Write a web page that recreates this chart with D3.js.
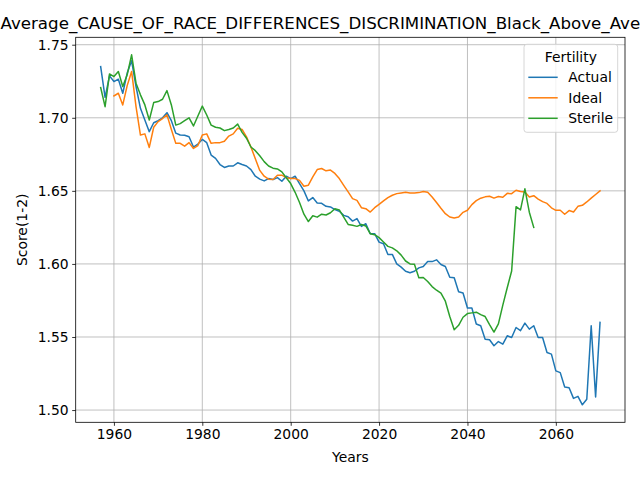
<!DOCTYPE html>
<html>
<head>
<meta charset="utf-8">
<script src="https://cdn.jsdelivr.net/npm/d3@7"></script>
<style>
  html, body { margin: 0; padding: 0; background: #fff; }
  svg { display: block; font-family: "DejaVu Sans", sans-serif; }
</style>
</head>
<body>
<svg id="chart" width="640" height="480"></svg>
<script>
// ---------------- data ----------------
const chartTitle = "Average_CAUSE_OF_RACE_DIFFERENCES_DISCRIMINATION_Black_Above_Average";
const xLabel = "Years";
const yLabel = "Score(1-2)";
const legendTitle = "Fertility";
const seriesNames = ["Actual", "Ideal", "Sterile"];
const seriesColors = ["#1f77b4", "#ff7f0e", "#2ca02c"];

const actualStart = 1957;
const actualValues = [
  1.735, 1.714, 1.7287, 1.7248, 1.7264, 1.7168, 1.7306, 1.739, 1.7214, 1.7065,
  1.6985, 1.6905, 1.6966, 1.698, 1.700, 1.7035, 1.698, 1.6895, 1.6882, 1.688,
  1.687, 1.680, 1.682, 1.6852, 1.683, 1.6745, 1.6722, 1.668, 1.666, 1.667,
  1.667, 1.6692, 1.668, 1.667, 1.6645, 1.660, 1.658, 1.6568, 1.6584, 1.6577,
  1.6591, 1.6566, 1.660, 1.6584, 1.660, 1.655, 1.650, 1.6431, 1.6454, 1.6417,
  1.6415, 1.6394, 1.639, 1.6372, 1.636, 1.6332, 1.6323, 1.6293, 1.631, 1.6257,
  1.6275, 1.6207, 1.6207, 1.6149, 1.6138, 1.6065, 1.6065, 1.600, 1.5978, 1.595,
  1.594, 1.595, 1.5973, 1.5982, 1.6016, 1.6016, 1.6028, 1.5996, 1.5982, 1.5909,
  1.5905, 1.5810, 1.5801, 1.5698, 1.5698, 1.5589, 1.5577, 1.5485, 1.5481, 1.5440,
  1.5469, 1.5451, 1.5508, 1.5497, 1.5565, 1.5543, 1.5595, 1.5554, 1.5577, 1.5497,
  1.5497, 1.5394, 1.5383, 1.5268, 1.5256, 1.5158, 1.5153, 1.5080, 1.5094, 1.5036,
  1.5074, 1.5577, 1.5089, 1.5600
];

const idealStart = 1960;
const idealValues = [
  1.715, 1.7168, 1.7088, 1.722, 1.7317, 1.7076, 1.6882, 1.689, 1.6797, 1.6935,
  1.6974, 1.6995, 1.702, 1.692, 1.6825, 1.6825, 1.6806, 1.683, 1.679, 1.681,
  1.6882, 1.689, 1.6825, 1.683, 1.683, 1.684, 1.6875, 1.689, 1.6928, 1.692,
  1.687, 1.680, 1.672, 1.664, 1.660, 1.658, 1.6578, 1.6607, 1.6607, 1.659,
  1.6584, 1.6584, 1.6572, 1.6532, 1.6539, 1.6595, 1.6646, 1.6653, 1.6637, 1.6642,
  1.6619, 1.6584, 1.6538, 1.6493, 1.6447, 1.6435, 1.6385, 1.6378, 1.6355, 1.6385,
  1.6408, 1.6431, 1.6454, 1.647, 1.6481, 1.6486, 1.649, 1.6486, 1.6486, 1.6488,
  1.6495, 1.649, 1.6458, 1.642, 1.6381, 1.6344, 1.6321, 1.6314, 1.6321, 1.6353,
  1.6367, 1.6406, 1.6433, 1.645, 1.6459, 1.6463, 1.645, 1.6461, 1.6456, 1.6483,
  1.6481, 1.6504, 1.6495, 1.6492, 1.6458, 1.6467, 1.6444, 1.6426, 1.6414, 1.6384,
  1.6367, 1.6367, 1.634, 1.6365, 1.6355, 1.6394, 1.6401, 1.6424, 1.645, 1.6475,
  1.650
];

const sterileStart = 1957;
const sterileValues = [
  1.7207, 1.7076, 1.730, 1.7282, 1.7317, 1.7214, 1.7294, 1.7431, 1.7237, 1.7157,
  1.7088, 1.6985, 1.7104, 1.7111, 1.7127, 1.7186, 1.7088, 1.695, 1.696, 1.698,
  1.700, 1.6944, 1.7012, 1.708, 1.7019, 1.695, 1.6935, 1.693, 1.6912, 1.692,
  1.693, 1.6957, 1.690, 1.686, 1.680, 1.6775, 1.674, 1.670, 1.667, 1.6655,
  1.665, 1.663, 1.659, 1.655, 1.649, 1.642, 1.634, 1.629, 1.633, 1.632,
  1.634, 1.6335, 1.635, 1.6378, 1.637, 1.632, 1.627, 1.6264, 1.6257, 1.627,
  1.626, 1.6207, 1.620, 1.618, 1.615, 1.612, 1.611, 1.609, 1.606, 1.602,
  1.600, 1.5998, 1.5905, 1.5907, 1.588, 1.5845, 1.582, 1.580, 1.5745, 1.564,
  1.555, 1.558, 1.5635, 1.566, 1.5665, 1.567, 1.5653, 1.564, 1.5585, 1.5534,
  1.559, 1.5718, 1.5837, 1.5952, 1.6392, 1.637, 1.6514, 1.6354, 1.625
];

const xTicks = [1960, 1980, 2000, 2020, 2040, 2060];
const yTicks = [1.50, 1.55, 1.60, 1.65, 1.70, 1.75];

// ---------------- build ----------------
const series = [
  { name: seriesNames[0], color: seriesColors[0], pts: actualValues.map((v, i) => [actualStart + i, v]) },
  { name: seriesNames[1], color: seriesColors[1], pts: idealValues.map((v, i) => [idealStart + i, v]) },
  { name: seriesNames[2], color: seriesColors[2], pts: sterileValues.map((v, i) => [sterileStart + i, v]) }
];

const W = 640, H = 480;
const FS = "13.89px", FS_TITLE = "16.67px";
const plot = { left: 75.7, right: 625, top: 37.3, bottom: 422.3 };

const allPts = series.flatMap(s => s.pts);
const [xmin, xmax] = d3.extent(allPts, d => d[0]);
const [ymin, ymax] = d3.extent(allPts, d => d[1]);
const xm = (xmax - xmin) * 0.05, ym = (ymax - ymin) * 0.05;

const x = d3.scaleLinear().domain([xmin - xm, xmax + xm]).range([plot.left, plot.right]);
const y = d3.scaleLinear().domain([ymin - ym, ymax + ym]).range([plot.bottom, plot.top]);

const svg = d3.select("#chart");
svg.append("rect").attr("width", W).attr("height", H).attr("fill", "#fff");

// grid
const grid = svg.append("g");
grid.selectAll("line.gx").data(xTicks).enter().append("line")
  .attr("x1", d => x(d)).attr("x2", d => x(d))
  .attr("y1", plot.top).attr("y2", plot.bottom)
  .attr("stroke", "#b0b0b0").attr("stroke-width", 0.8);
grid.selectAll("line.gy").data(yTicks).enter().append("line")
  .attr("y1", d => y(d)).attr("y2", d => y(d))
  .attr("x1", plot.left).attr("x2", plot.right)
  .attr("stroke", "#b0b0b0").attr("stroke-width", 0.8);

// lines
svg.append("clipPath").attr("id", "clip").append("rect")
  .attr("x", plot.left).attr("y", plot.top)
  .attr("width", plot.right - plot.left).attr("height", plot.bottom - plot.top);

const line = d3.line().x(d => x(d[0])).y(d => y(d[1]));
svg.append("g").attr("clip-path", "url(#clip)")
  .selectAll("path").data(series).enter().append("path")
  .attr("d", d => line(d.pts))
  .attr("fill", "none")
  .attr("stroke", d => d.color)
  .attr("stroke-width", 1.5)
  .attr("stroke-linejoin", "round")
  .attr("stroke-linecap", "square");

// axes
const xAxis = d3.axisBottom(x).tickValues(xTicks).tickFormat(d3.format("d")).tickSize(3.5).tickPadding(3.5);
const yAxis = d3.axisLeft(y).tickValues(yTicks).tickFormat(d3.format(".2f")).tickSize(3.5).tickPadding(3.5);

const gx = svg.append("g").attr("transform", `translate(0,${plot.bottom})`).call(xAxis);
const gy = svg.append("g").attr("transform", `translate(${plot.left},0)`).call(yAxis);
[gx, gy].forEach(g => {
  g.select(".domain").remove();
  g.selectAll(".tick line").attr("stroke", "#000").attr("stroke-width", 0.8);
  g.selectAll(".tick text").attr("fill", "#000")
    .style("font-family", "'DejaVu Sans', sans-serif").style("font-size", FS);
});

// spines
svg.append("rect")
  .attr("x", plot.left).attr("y", plot.top)
  .attr("width", plot.right - plot.left).attr("height", plot.bottom - plot.top)
  .attr("fill", "none").attr("stroke", "#000").attr("stroke-width", 0.8);

// labels (title runs past the figure edge, as in the reference)
svg.append("text")
  .attr("x", 0.5).attr("y", 29)
  .attr("text-anchor", "start").attr("font-size", FS_TITLE).attr("fill", "#000")
  .text(chartTitle);

svg.append("text")
  .attr("x", (plot.left + plot.right) / 2).attr("y", 462)
  .attr("text-anchor", "middle").attr("font-size", FS).attr("fill", "#000")
  .text(xLabel);

svg.append("text")
  .attr("transform", `translate(27,${(plot.top + plot.bottom) / 2}) rotate(-90)`)
  .attr("text-anchor", "middle").attr("font-size", FS).attr("fill", "#000")
  .text(yLabel);

// legend
const lg = svg.append("g");
lg.append("rect")
  .attr("x", 524).attr("y", 44.3).attr("width", 93.7).attr("height", 88)
  .attr("rx", 2.8).attr("ry", 2.8)
  .attr("fill", "#fff").attr("fill-opacity", 0.8)
  .attr("stroke", "#cccccc").attr("stroke-width", 0.8);
lg.append("text")
  .attr("x", 570.8).attr("y", 61.5)
  .attr("text-anchor", "middle").attr("font-size", FS).attr("fill", "#000")
  .text(legendTitle);
const rowY = d3.scalePoint().domain(seriesNames).range([77.3, 118.3]);
const rows = lg.selectAll("g.row").data(series).enter().append("g");
rows.append("line")
  .attr("x1", 528.3).attr("x2", 557.7)
  .attr("y1", d => rowY(d.name)).attr("y2", d => rowY(d.name))
  .attr("stroke", d => d.color).attr("stroke-width", 1.5);
rows.append("text")
  .attr("x", 568.3).attr("y", d => rowY(d.name) + 4.9)
  .attr("font-size", FS).attr("fill", "#000")
  .text(d => d.name);
</script>
</body>
</html>
